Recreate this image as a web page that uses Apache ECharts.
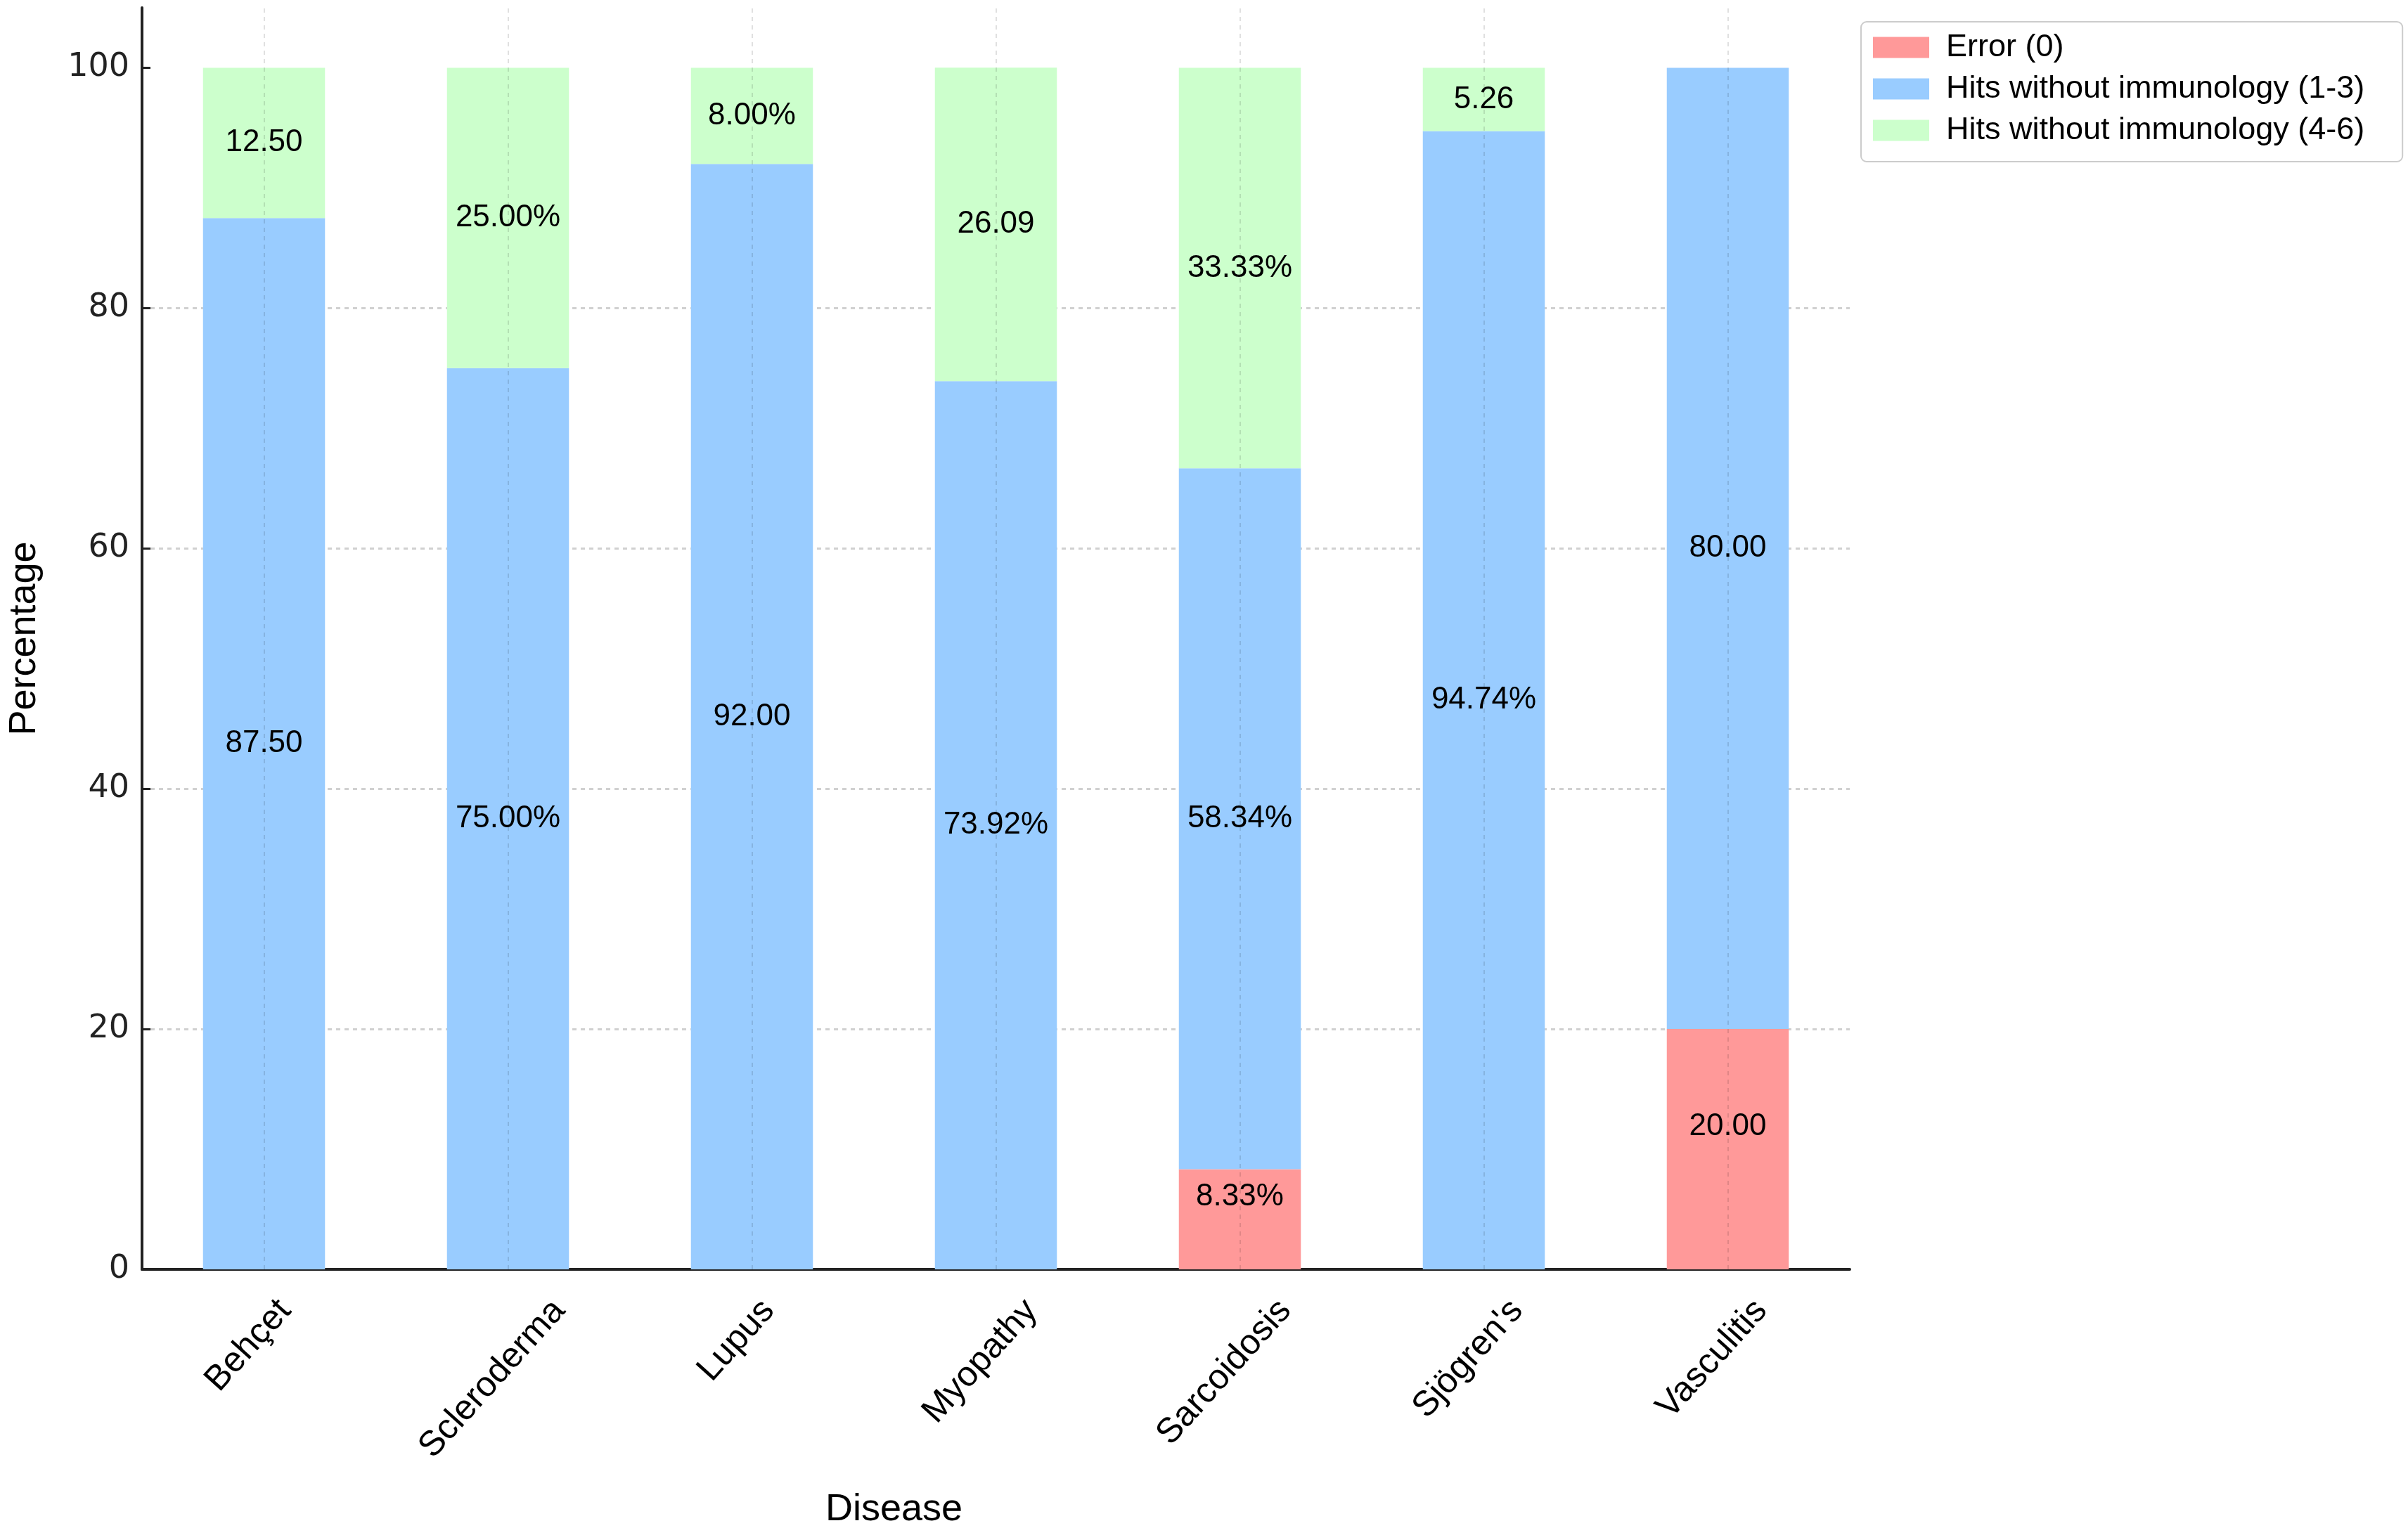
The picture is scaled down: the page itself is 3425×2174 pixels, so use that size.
<!DOCTYPE html>
<html><head><meta charset="utf-8">
<script src="https://cdn.jsdelivr.net/npm/echarts@6/dist/echarts.min.js"></script>
<style>html,body{margin:0;padding:0;background:#fff}#c{width:3425px;height:2174px}</style>
</head><body><div id="c"></div>
<script>
const categories = ['Behçet', 'Scleroderma', 'Lupus', 'Myopathy', 'Sarcoidosis', "Sjögren's", 'Vasculitis'];
const seriesNames = ['Error (0)', 'Hits without immunology (1-3)', 'Hits without immunology (4-6)'];
const errorValues = [0, 0, 0, 0, 8.33, 0, 20];
const hits13Values = [87.5, 75, 92, 73.92, 58.34, 94.74, 80];
const hits46Values = [12.5, 25, 8, 26.09, 33.33, 5.26, 0];
const errorLabels = ['', '', '', '', '8.33%', '', '20.00'];
const hits13Labels = ['87.50', '75.00%', '92.00', '73.92%', '58.34%', '94.74%', '80.00'];
const hits46Labels = ['12.50', '25.00%', '8.00%', '26.09', '33.33%', '5.26', ''];
const yTicks = [0, 20, 40, 60, 80, 100];

const FONT = '"Liberation Sans", Arial, sans-serif';
const XFONT = 50;
const XROT = 48;
const ctx = document.createElement('canvas').getContext('2d');
ctx.font = XFONT + 'px "Liberation Sans"';
// rotated labels centred under their ticks (top of rotated box just below the axis)
const th = XROT * Math.PI / 180;
const SHIFT_LEFT = 22, SHIFT_DOWN = 30;
const xData = categories.map(c => {
  const L = ctx.measureText(c).width;
  const h = XFONT;
  const H = L * Math.sin(th) + h * Math.cos(th);
  const right = H * Math.sin(th) + 2 * SHIFT_LEFT * Math.cos(th) + 2 * SHIFT_DOWN * Math.sin(th);
  const top = Math.max(0, H * Math.cos(th) / 2 - h / 2 + SHIFT_DOWN * Math.cos(th) - SHIFT_LEFT * Math.sin(th));
  return {
    value: c,
    textStyle: {
      align: 'center',
      verticalAlign: 'top',
      fontSize: XFONT,
      fontFamily: FONT,
      color: '#000',
      padding: [top, right, 0, 0]
    }
  };
});

const colors = ['#ff9999', '#99ccff', '#ccffcc'];
const valueSets = [errorValues, hits13Values, hits46Values];
const labelSets = [errorLabels, hits13Labels, hits46Labels];
const labelOffsets = [[0, -32], [0, 0], [0, 0]];

const barSeries = seriesNames.map((name, i) => ({
  name: name,
  type: 'bar',
  stack: 'total',
  barWidth: '50%',
  itemStyle: { color: colors[i] },
  label: {
    show: true,
    position: 'inside',
    offset: labelOffsets[i],
    color: '#000',
    fontSize: 44,
    fontFamily: FONT,
    formatter: p => labelSets[i][p.dataIndex]
  },
  data: valueSets[i]
}));

barSeries.push({
  type: 'line',
  z: 5,
  data: [],
  silent: true,
  markLine: {
    silent: true,
    symbol: 'none',
    animation: false,
    label: { show: false },
    lineStyle: { color: 'rgba(0,0,0,0.12)', type: [6, 6], width: 2 },
    data: categories.map(c => ({ xAxis: c }))
  }
});

const chart = echarts.init(document.getElementById('c'));
chart.setOption({
  animation: false,
  backgroundColor: '#fff',
  grid: { left: 202, right: 794, top: 11, bottom: 368, containLabel: false, outerBoundsMode: 'none' },
  legend: {
    data: seriesNames,
    orient: 'vertical',
    left: 2647,
    top: 31,
    itemWidth: 80,
    itemHeight: 30,
    itemGap: 14,
    icon: 'rect',
    padding: [14, 54, 22, 17],
    borderColor: '#cccccc',
    borderWidth: 2,
    borderRadius: 8,
    backgroundColor: '#fff',
    textStyle: { fontSize: 45, fontFamily: FONT, color: '#000', padding: [0, 0, 0, 19] }
  },
  xAxis: {
    type: 'category',
    data: xData,
    name: 'Disease',
    nameLocation: 'middle',
    nameGap: 315,
    nameTextStyle: { fontSize: 54, fontFamily: FONT, color: '#000', padding: [0, 290, 0, 0] },
    axisLine: { lineStyle: { color: '#222', width: 4 } },
    axisTick: { show: true, alignWithLabel: true, inside: true, length: 12, lineStyle: { color: '#222', width: 3 } },
    axisLabel: {
      interval: 0,
      rotate: XROT,
      margin: 34 - SHIFT_DOWN,
      fontSize: XFONT,
      fontFamily: FONT,
      color: '#000'
    },
    splitLine: { show: false }
  },
  yAxis: {
    type: 'value',
    min: 0,
    max: 105,
    interval: 20,
    name: 'Percentage',
    nameLocation: 'middle',
    nameGap: 140,
    nameTextStyle: { fontSize: 54, fontFamily: FONT, color: '#000' },
    axisLine: { show: true, lineStyle: { color: '#222', width: 4 } },
    axisTick: { show: true, inside: true, length: 12, lineStyle: { color: '#222', width: 3 }, customValues: yTicks },
    axisLabel: {
      margin: 18,
      fontSize: 46,
      fontFamily: '"DejaVu Sans", sans-serif',
      color: '#222',
      customValues: yTicks,
      formatter: v => (yTicks.indexOf(v) >= 0 ? String(v) : '')
    },
    splitLine: { show: true, showMaxLine: false, lineStyle: { color: '#d0d0d0', type: [6, 6], width: 3 } }
  },
  series: barSeries
});
</script>
</body></html>
